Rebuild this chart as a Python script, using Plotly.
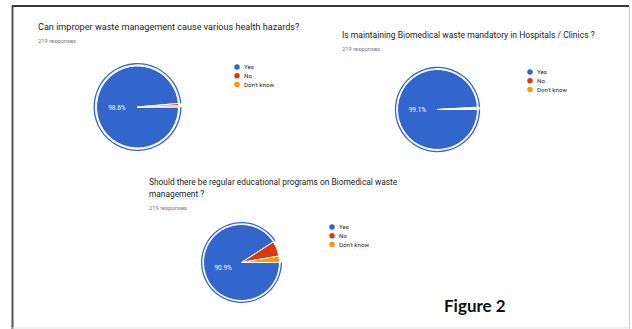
import plotly.graph_objects as go

W, H = 632, 329

# Survey answers (219 responses per question)
answers = ["Yes", "No", "Don't know"]
colors = ["#3366cc", "#dc3912", "#ff9900"]

q1_title = "Can improper waste management cause various health hazards?"
q1_counts = [216, 2, 1]

q2_title = "Is maintaining Biomedical waste mandatory in Hospitals / Clinics ?"
q2_counts = [217, 1, 1]

q3_title = ["Should there be regular educational programs on Biomedical waste",
            "management ?"]
q3_counts = [199, 14, 6]

responses_note = "219 responses"
figure_caption = "Figure 2"

# layout of each panel: title position, pie centre/radius, legend position
panels = [
    dict(counts=q1_counts, title=[q1_title], tx=36, ty=27, tsize=9.1, line=12,
         cx=137.5, cy=107, r=41, ring=44, lx=237, ly=67),
    dict(counts=q2_counts, title=[q2_title], tx=340, ty=35, tsize=8.55, line=12,
         cx=437.5, cy=109.5, r=40, ring=42.7, lx=530, ly=72),
    dict(counts=q3_counts, title=q3_title, tx=147, ty=182, tsize=8.35, line=12,
         cx=241.5, cy=262.5, r=38, ring=40.5, lx=332, ly=227),
]

FONT = "Roboto"


def dom(cx, cy, r):
    return dict(x=[(cx - r) / W, (cx + r) / W],
                y=[1 - (cy + r) / H, 1 - (cy - r) / H])


fig = go.Figure()
annotations = []

for p in panels:
    # outer highlight ring around the "Yes" slice
    fig.add_trace(go.Pie(
        values=p["counts"], labels=answers, sort=False, direction="clockwise",
        rotation=90, domain=dom(p["cx"], p["cy"], p["ring"]),
        hole=(p["ring"] - 1.3) / p["ring"],
        marker=dict(colors=[colors[0], "rgba(0,0,0,0)", "rgba(0,0,0,0)"],
                    line=dict(width=0)),
        textinfo="none", hoverinfo="skip", showlegend=False))
    # main pie
    fig.add_trace(go.Pie(
        values=p["counts"], labels=answers, sort=False, direction="clockwise",
        rotation=90, domain=dom(p["cx"], p["cy"], p["r"]),
        marker=dict(colors=colors, line=dict(color="white", width=1)),
        texttemplate=["%{percent:.1%}", "", ""], textposition="inside",
        insidetextorientation="horizontal",
        textfont=dict(family=FONT, size=6.5, color="white"),
        showlegend=False))

    # question title and response count
    for i, t in enumerate(p["title"]):
        annotations.append(dict(
            x=p["tx"], y=p["ty"] + i * p["line"], xref="x", yref="y",
            text=t, showarrow=False, xanchor="left", yanchor="middle",
            font=dict(family=FONT, size=p["tsize"], color="#202124")))
    annotations.append(dict(
        x=p["tx"], y=p["ty"] + (len(p["title"]) - 1) * p["line"] + 14,
        xref="x", yref="y", text=responses_note, showarrow=False,
        xanchor="left", yanchor="middle",
        font=dict(family=FONT, size=5.8, color="#70757a")))

    # legend: coloured dots with answer labels
    ys = [p["ly"] + k * 8.8 for k in range(len(answers))]
    fig.add_trace(go.Scatter(
        x=[p["lx"]] * len(answers), y=ys, mode="markers",
        marker=dict(color=colors, size=5.5, line=dict(width=0)),
        hoverinfo="skip", showlegend=False))
    for a, yv in zip(answers, ys):
        annotations.append(dict(
            x=p["lx"] + 5, y=yv, xref="x", yref="y", text=a, showarrow=False,
            xanchor="left", yanchor="middle",
            font=dict(family=FONT, size=6.2, color="#222222")))

annotations.append(dict(
    x=442, y=305, xref="x", yref="y", text="<b>" + figure_caption + "</b>",
    showarrow=False, xanchor="left", yanchor="middle",
    font=dict(family="Lato", size=17, color="#111111")))

shapes = [
    # frame around the figure
    dict(type="line", xref="x", yref="y", x0=12.5, y0=6, x1=12.5, y1=H,
         line=dict(color="#555555", width=2)),
    dict(type="line", xref="x", yref="y", x0=12, y0=6, x1=629, y1=6,
         line=dict(color="#3a3a3a", width=2)),
    dict(type="line", xref="x", yref="y", x0=629.5, y0=6, x1=629.5, y1=H,
         line=dict(color="#c8c8c8", width=1)),
    dict(type="line", xref="x", yref="y", x0=12, y0=328, x1=630, y1=328,
         line=dict(color="#e2e2e2", width=1)),
]

fig.update_layout(
    width=W, height=H, margin=dict(l=0, r=0, t=0, b=0),
    paper_bgcolor="white", plot_bgcolor="rgba(0,0,0,0)",
    xaxis=dict(range=[0, W], visible=False, fixedrange=True, domain=[0, 1]),
    yaxis=dict(range=[H, 0], visible=False, fixedrange=True, domain=[0, 1]),
    annotations=annotations, shapes=shapes, showlegend=False,
)

fig.write_html("out.html")
